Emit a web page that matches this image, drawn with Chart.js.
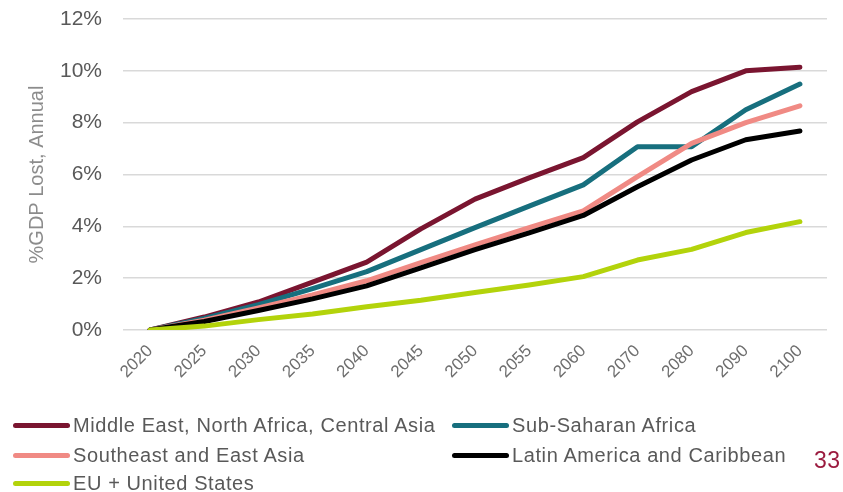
<!DOCTYPE html>
<html>
<head>
<meta charset="utf-8">
<script src="https://cdn.jsdelivr.net/npm/chart.js@4/dist/chart.umd.min.js"></script>
<style>
  html, body { margin: 0; padding: 0; background: #fff; }
  #wrap { position: relative; width: 843px; height: 492px; overflow: hidden; font-family: "Liberation Sans", Arial, sans-serif; }
  #chart { position: absolute; left: 0; top: 0; }
  .leg-item { position: absolute; height: 24px; display: flex; align-items: center; white-space: nowrap; }
  .leg-line { width: 57px; height: 5px; border-radius: 3px; margin-right: 3px; }
  .leg-text { font-size: 20px; letter-spacing: 0.6px; color: #595959; }
  #page { position: absolute; left: 814px; top: 447px; font-size: 23px; letter-spacing: 0.5px; color: #9B1B3F; }
</style>
</head>
<body>
<div id="wrap">
  <canvas id="chart" width="843" height="492"></canvas>
  <div id="legend"></div>
  <div id="page">33</div>
</div>
<script>
const years = ['2020','2025','2030','2035','2040','2045','2050','2055','2060','2070','2080','2090','2100'];
const yTicks = [0, 2, 4, 6, 8, 10, 12];

const menaLoss  = [0, 0.5, 1.08, 1.85, 2.62, 3.9, 5.05, 5.87, 6.65, 8.03, 9.2, 10.0, 10.14];
const ssaLoss   = [0, 0.45, 0.98, 1.6, 2.25, 3.1, 3.95, 4.78, 5.6, 7.07, 7.07, 8.5, 9.49];
const seaLoss   = [0, 0.38, 0.85, 1.35, 1.9, 2.6, 3.28, 3.95, 4.6, 5.92, 7.2, 8.0, 8.65];
const latamLoss = [0, 0.33, 0.75, 1.2, 1.7, 2.4, 3.1, 3.75, 4.42, 5.53, 6.56, 7.34, 7.68];
const euusLoss  = [0, 0.15, 0.4, 0.62, 0.9, 1.15, 1.45, 1.74, 2.06, 2.7, 3.11, 3.76, 4.18];

const seriesNames  = ['Middle East, North Africa, Central Asia', 'Sub-Saharan Africa', 'Southeast and East Asia', 'Latin America and Caribbean', 'EU + United States'];
const seriesColors = ['#7A1530', '#176F7E', '#F08A84', '#000000', '#B3D30B'];
const seriesData   = [menaLoss, ssaLoss, seaLoss, latamLoss, euusLoss];

const datasets = seriesNames.map((name, i) => ({
    label: name,
    data: seriesData[i],
    borderColor: seriesColors[i],
    backgroundColor: seriesColors[i],
    borderWidth: 5,
    pointRadius: 0,
    tension: 0,
    borderCapStyle: 'round',
    borderJoinStyle: 'round',
    order: seriesNames.length - i   // later series on top, like the original
}));

new Chart(document.getElementById('chart'), {
    type: 'line',
    data: { labels: years, datasets },
    options: {
        responsive: false,
        devicePixelRatio: 1,
        animation: false,
        layout: { autoPadding: false, padding: { left: 10, right: 16, top: 19, bottom: 102 } },
        plugins: { legend: { display: false }, tooltip: { enabled: false } },
        scales: {
            x: {
                offset: true,
                grid: { display: false },
                border: { display: false },
                ticks: {
                    minRotation: 45, maxRotation: 45, autoSkip: false,
                    color: '#6E6E6E', padding: 3,
                    font: { family: 'Liberation Sans', size: 17 }
                },
                afterFit: s => { s.height = 60; }
            },
            y: {
                min: 0, max: 12,
                afterBuildTicks: s => { s.ticks = yTicks.map(v => ({ value: v })); },
                grid: { color: '#D9D9D9', lineWidth: 1.5, drawTicks: false },
                border: { display: false },
                ticks: {
                    color: '#595959', padding: 21,
                    font: { family: 'Liberation Sans', size: 21 },
                    callback: v => v + '%'
                },
                title: {
                    display: true, text: '%GDP Lost, Annual', color: '#8C8C8C',
                    font: { family: 'Liberation Sans', size: 20 }, padding: { top: 15, bottom: 0 }
                },
                // tick padding would otherwise push the plot top down
                afterFit: s => { s.width = 113; s.paddingTop = 0; s.paddingBottom = 0; }
            }
        }
    }
});

// legend in two columns below the plot, built from the same series arrays
const legendPos = [[13, 413], [452, 413], [13, 443], [452, 443], [13, 471]];
document.getElementById('legend').innerHTML = seriesNames.map((name, i) => `
    <div class="leg-item" style="left:${legendPos[i][0]}px;top:${legendPos[i][1]}px">
        <span class="leg-line" style="background:${seriesColors[i]}"></span>
        <span class="leg-text">${name}</span>
    </div>`).join('');
</script>
</body>
</html>
